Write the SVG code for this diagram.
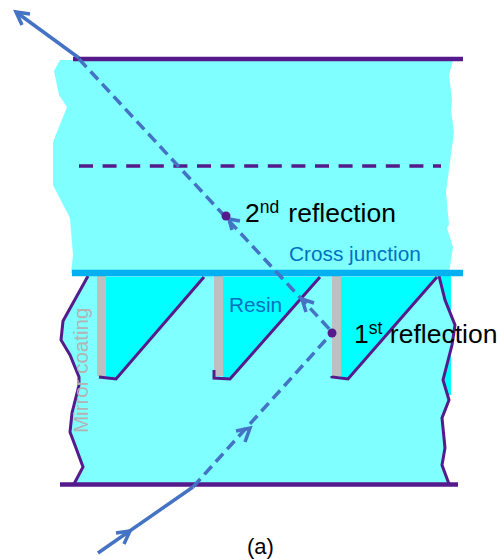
<svg xmlns="http://www.w3.org/2000/svg" width="504" height="559" viewBox="0 0 504 559">
<style>
text{font-family:"Liberation Sans",Arial,sans-serif}
.p{fill:none;stroke:#551a8b;stroke-width:3}
.ray{fill:none;stroke:#4472c4;stroke-width:3.500}
.d{stroke-dasharray:11 6}
.b{fill:#000;font-size:26.500px}
.s{font-size:17.500px}
.bl{fill:#0070c0;font-size:20.800px}
.t{fill:#00ffff}
.g{fill:#bfbfbf}
</style>
<rect width="504" height="559" fill="#fff"/>
<g id="body">
<polygon points="60,60 54,71 59,95 67,107 53,142 53,185 70,218 73,255 71,273 449,273 453,247 447,228 449,225 446,192 454,132 451,110 452,100 449,75 453,60" fill="#7fffff"/>
<rect x="300" y="270" width="151" height="125" class="t"/>
<polygon points="88,276 63,321 61,340 70,355 79,377 79,385 72,413 70,432 76,448 83,467 74,484 449,484 442,465 445,448 442,418 449,400 443,380 452,345 455,325 445,300 439,276" fill="#7fffff"/>
</g>
<g id="tooth1"><polygon points="106,277 204,277 116,378 106,377" class="t"/><rect x="97" y="276" width="9" height="100" class="g"/><polyline points="99,377 116,379 204,277" class="p"/></g>
<g id="tooth2"><polygon points="223,277 320,277 230,379 223,378" class="t"/><rect x="214" y="276" width="9" height="100" class="g"/><polyline points="214,370 214,378 230,379 320,277" class="p"/></g>
<g id="tooth3"><polygon points="341,277 437,277 348,379 341,378" class="t"/><rect x="332" y="276" width="9" height="100" class="g"/><polyline points="332,376 332,377 348,379 437,277" class="p"/></g>
<g id="walls">
<polyline points="88,276 63,321 61,340 70,355 79,377 79,385 72,413 70,432 76,448 83,467 74,484" class="p"/>
<polyline points="439,276 445,300 455,325 452,345 443,380 449,400 442,418 445,448 442,465 449,484" class="p"/>
</g>
<g id="lines">
<line x1="73" y1="59" x2="463" y2="59" stroke="#551a8b" stroke-width="4.500"/>
<line x1="60" y1="484.500" x2="458" y2="484.500" stroke="#551a8b" stroke-width="4.500"/>
<line x1="79" y1="166" x2="441" y2="166" stroke="#551a8b" stroke-width="3.500" stroke-dasharray="14 9.600"/>
<line x1="72" y1="273" x2="463" y2="273" stroke="#00b0f0" stroke-width="6.500"/>
</g>
<g id="connectors">
<polyline points="79,58 16,12" class="ray"/>
<polyline points="30,14 16,12 22,25" class="ray"/>
<polyline points="79,59 333,333" class="ray d"/>
<polyline points="240,221 229,219 232,230" class="ray"/>
<polyline points="314,303 302,299 306,312" class="ray"/>
<polyline points="98,553 193,487" class="ray"/>
<polyline points="116,533 130,531 124,544" class="ray"/>
<polyline points="193,487 332,333" class="ray d"/>
<polyline points="236,431 250,428 245,442" class="ray"/>
</g>
<g id="dots" fill="#551a8b">
<circle cx="226" cy="216" r="4.500"/>
<circle cx="332" cy="333" r="4.500"/>
</g>
<g id="labels">
<text x="245" y="222" class="b">2<tspan class="s" dy="-9">nd</tspan><tspan x="281" dy="9"> reflection</tspan></text>
<text x="354" y="343" class="b">1<tspan class="s" dy="-9">st</tspan><tspan x="382.500" dy="9"> reflection</tspan></text>
<text x="289" y="261" class="bl">Cross junction</text>
<text x="229" y="312" class="bl">Resin</text>
<text x="247" y="554" fill="#000" font-size="22">(a)</text>
<text transform="translate(88,433) rotate(-90)" fill="#b3b3b3" font-size="20.500">Mirror coating</text>
</g>
</svg>
